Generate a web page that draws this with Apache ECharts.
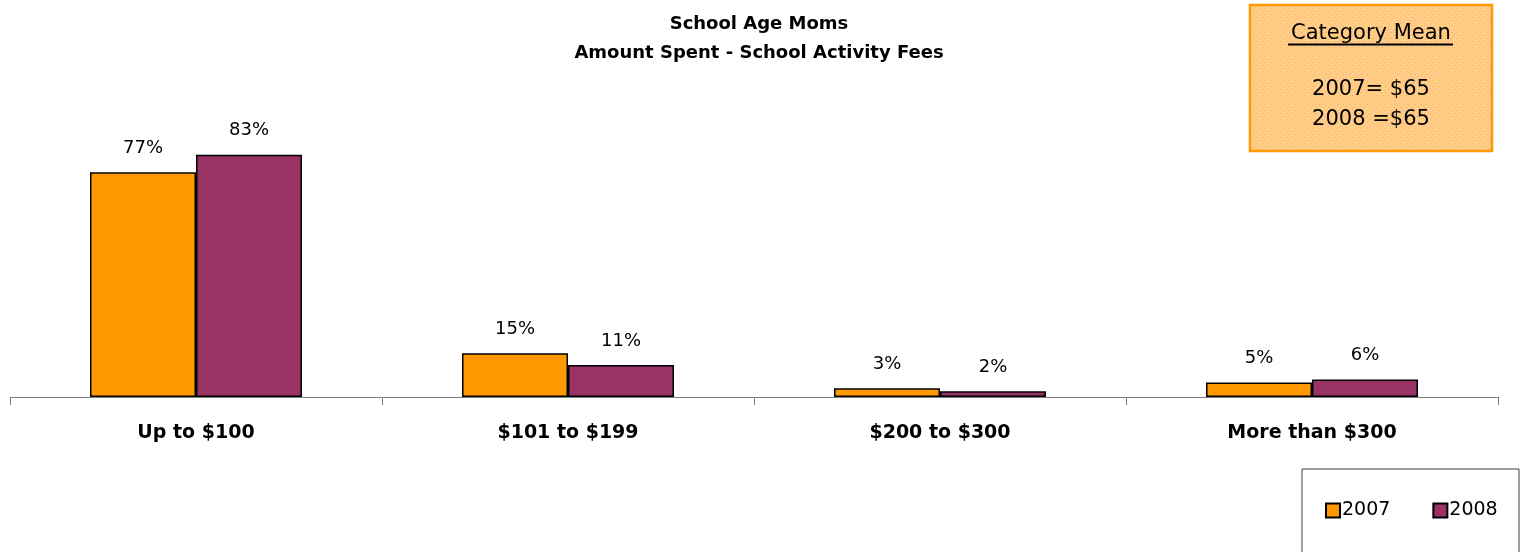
<!DOCTYPE html>
<html>
<head>
<meta charset="utf-8">
<script src="https://cdn.jsdelivr.net/npm/echarts@6/dist/echarts.min.js"></script>
<style>html,body{margin:0;padding:0;background:#fff}#c{width:1527px;height:552px}</style>
</head>
<body>
<div id="c"></div>
<script>
var categories = ['Up to $100', '$101 to $199', '$200 to $300', 'More than $300'];
var series2007 = [77, 15, 3, 5];
var series2008 = [83, 11, 2, 6];
var seriesNames = ['2007', '2008'];
var titleLines = ['School Age Moms', 'Amount Spent - School Activity Fees'];
var meanTitle = 'Category Mean';
var meanLines = ['2007= $65', '2008 =$65'];

var FONT = '"DejaVu Sans", Verdana, sans-serif';

// dotted fill pattern for the mean box
var pc = document.createElement('canvas');
pc.width = 6; pc.height = 6;
var pctx = pc.getContext('2d');
pctx.fillStyle = '#FFCC88'; pctx.fillRect(0, 0, 6, 6);
pctx.fillStyle = '#F7B455'; pctx.fillRect(0, 0, 1, 1); pctx.fillRect(3, 3, 1, 1);

var chart = echarts.init(document.getElementById('c'), null, {renderer: 'canvas'});
var labelCfg = {
  show: true, position: 'top', distance: 15,
  formatter: function (p) { return p.value + '%'; },
  fontFamily: FONT, fontSize: 18, color: '#000'
};
var option = {
  backgroundColor: '#fff',
  animation: false,
  title: {
    text: titleLines[0] + '\n' + titleLines[1],
    left: 754, textAlign: 'center', top: 5,
    textStyle: {fontFamily: FONT, fontSize: 18, fontWeight: 'bold', color: '#000', lineHeight: 29}
  },
  grid: {left: 10, right: 29, top: 105, bottom: 155, containLabel: false},
  xAxis: {
    type: 'category', data: categories,
    axisLine: {lineStyle: {color: '#808080', width: 1}},
    axisTick: {show: true, inside: false, length: 8, lineStyle: {color: '#808080'}, alignWithLabel: false},
    axisLabel: {fontFamily: FONT, fontSize: 19, fontWeight: 'bold', color: '#000', margin: 27}
  },
  yAxis: {type: 'value', min: 0, max: 100, show: false, splitLine: {show: false}},
  legend: {
    data: seriesNames, left: 1325, top: 501, itemWidth: 14, itemHeight: 14, itemGap: 42,
    icon: 'rect', padding: 0,
    textStyle: {fontFamily: FONT, fontSize: 19, color: '#000', padding: [0, 0, 0, -3]}
  },
  series: [
    {name: seriesNames[0], type: 'bar', data: series2007, barWidth: 106, barGap: '0%',
     itemStyle: {color: '#FF9900', borderColor: '#000', borderWidth: 1.5}, label: labelCfg},
    {name: seriesNames[1], type: 'bar', data: series2008, barWidth: 106, barGap: '0%',
     itemStyle: {color: '#993366', borderColor: '#000', borderWidth: 1.5}, label: labelCfg}
  ],
  graphic: [
    {type: 'group', x: 0, y: 0, children: [
      {type: 'rect', shape: {x: 1302, y: 469, width: 217, height: 100}, style: {fill: 'none', stroke: '#404040', lineWidth: 1}, z: -1}
    ]},
    {type: 'group', x: 1250, y: 5, children: [
      {type: 'rect', shape: {x: 0, y: 0, width: 242, height: 146}, style: {fill: {image: pc, repeat: 'repeat'}, stroke: '#FF9900', lineWidth: 2.5}},
      {type: 'text', x: 121, y: 29, style: {text: meanTitle, textAlign: 'center', textVerticalAlign: 'middle', font: '21px ' + FONT, fill: '#000'}},
      {type: 'line', shape: {x1: 38, y1: 39.5, x2: 203, y2: 39.5}, style: {stroke: '#000', lineWidth: 2}},
      {type: 'text', x: 121, y: 85, style: {text: meanLines[0], textAlign: 'center', textVerticalAlign: 'middle', font: '21px ' + FONT, fill: '#000'}},
      {type: 'text', x: 121, y: 115, style: {text: meanLines[1], textAlign: 'center', textVerticalAlign: 'middle', font: '21px ' + FONT, fill: '#000'}}
    ]}
  ]
};
chart.setOption(option);
</script>
</body>
</html>
